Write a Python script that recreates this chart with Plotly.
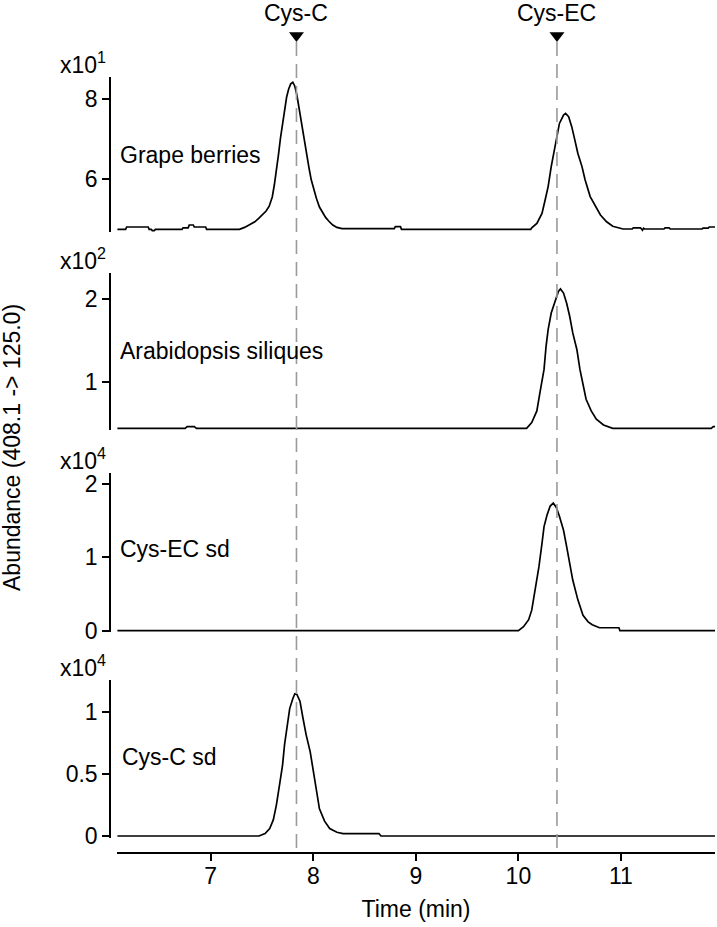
import plotly.graph_objects as go

FONT = "Liberation Sans, Arial, Helvetica, sans-serif"

# ---------------- data (abundance in units of the panel multiplier) ----------------
# Grape berries  (x10^1)
grape_time = [6.09, 6.17, 6.18, 6.39, 6.40, 6.42, 6.43, 6.45, 6.46, 6.72, 6.73, 6.78,
              6.79, 6.83, 6.84, 6.95, 6.96,
              7.28, 7.33, 7.38, 7.43, 7.47, 7.51, 7.54, 7.57, 7.60, 7.62, 7.64, 7.66,
              7.68, 7.70, 7.72, 7.74, 7.76, 7.78, 7.80, 7.82, 7.84, 7.86, 7.88, 7.90,
              7.92, 7.94, 7.96, 7.98, 8.00, 8.03, 8.06, 8.09, 8.12, 8.15, 8.19, 8.23,
              8.28, 8.79, 8.80, 8.85, 8.86, 10.12,
              10.13, 10.18, 10.23, 10.26, 10.29, 10.32, 10.35, 10.37, 10.40, 10.44,
              10.46, 10.49, 10.52, 10.55, 10.58, 10.62, 10.65, 10.70, 10.75, 10.80,
              10.86, 10.92, 11.02, 11.11, 11.12, 11.19, 11.20, 11.21, 11.22, 11.23,
              11.42, 11.43, 11.47, 11.48, 11.79, 11.80, 11.85, 11.86, 11.92]
grape_abund = [4.74, 4.74, 4.80, 4.80, 4.74, 4.74, 4.71, 4.71, 4.74, 4.74, 4.78, 4.78,
               4.85, 4.85, 4.80, 4.80, 4.74,
               4.74, 4.79, 4.86, 4.93, 5.02, 5.12, 5.20, 5.32, 5.55, 5.85, 6.18, 6.60,
               7.02, 7.40, 7.78, 8.05, 8.25, 8.38, 8.42, 8.32, 8.10, 7.78, 7.42, 7.15,
               6.85, 6.55, 6.25, 5.98, 5.78, 5.52, 5.30, 5.15, 5.04, 4.95, 4.85, 4.79,
               4.76, 4.76, 4.81, 4.81, 4.74, 4.74,
               4.78, 4.89, 5.14, 5.47, 5.81, 6.31, 6.72, 7.06, 7.39, 7.60,
               7.64, 7.56, 7.31, 6.98, 6.64, 6.31, 5.98, 5.56, 5.31, 5.10,
               4.93, 4.82, 4.75, 4.75, 4.78, 4.78, 4.75, 4.72, 4.77, 4.75,
               4.75, 4.78, 4.78, 4.75, 4.75, 4.77, 4.77, 4.80, 4.80]

# Arabidopsis siliques  (x10^2)
arab_time = [6.09, 6.75, 6.77, 6.84, 6.86, 10.08, 10.13, 10.18, 10.21, 10.25, 10.27, 10.29, 10.32,
             10.36, 10.39, 10.41, 10.44, 10.47, 10.50, 10.53, 10.57, 10.60, 10.63,
             10.66, 10.71, 10.76, 10.83, 10.92, 11.88, 11.90, 11.92]
arab_abund = [0.44, 0.44, 0.46, 0.46, 0.44, 0.44, 0.51, 0.65, 0.87, 1.15, 1.43, 1.63, 1.83,
              1.99, 2.09, 2.12, 2.07, 1.95, 1.79, 1.59, 1.39, 1.15, 0.95,
              0.79, 0.65, 0.55, 0.48, 0.44, 0.44, 0.46, 0.46]

# Cys-EC standard  (x10^4)
ecsd_time = [6.09, 10.00, 10.05, 10.10, 10.13, 10.16, 10.20, 10.23, 10.25, 10.28,
             10.31, 10.34, 10.37, 10.40, 10.44, 10.47, 10.50, 10.53, 10.58, 10.63,
             10.68, 10.72, 10.79, 10.98, 10.99, 11.92]
ecsd_abund = [0.0, 0.0, 0.055, 0.15, 0.28, 0.51, 0.87, 1.19, 1.42, 1.58,
              1.70, 1.74, 1.68, 1.56, 1.37, 1.15, 0.92, 0.69, 0.42, 0.21,
              0.12, 0.08, 0.04, 0.04, 0.0, 0.0]

# Cys-C standard  (x10^4)
csd_time = [6.09, 7.47, 7.53, 7.575, 7.61, 7.64, 7.67, 7.70, 7.72, 7.745, 7.77,
            7.80, 7.82, 7.84, 7.87, 7.90, 7.93, 7.97, 8.00, 8.03, 8.06, 8.11,
            8.16, 8.23, 8.29, 8.36, 8.64, 8.66, 11.92]
csd_abund = [0.0, 0.0, 0.02, 0.06, 0.13, 0.25, 0.41, 0.57, 0.74, 0.90, 1.03,
             1.11, 1.15, 1.145, 1.09, 0.95, 0.82, 0.68, 0.52, 0.36, 0.22, 0.12,
             0.06, 0.03, 0.02, 0.02, 0.02, 0.0, 0.0]

panel_names = ["Grape berries", "Arabidopsis siliques", "Cys-EC sd", "Cys-C sd"]
panel_exponents = [1, 2, 4, 4]
panel_yticks = [[6, 8], [1, 2], [0, 1, 2], [0, 0.5, 1]]
panel_label_y = [6.6, 1.37, 1.11, 0.64]
panel_label_x = [6.093, 6.093, 6.093, 6.12]

marker_names = ["Cys-C", "Cys-EC"]
marker_times = [7.836, 10.376]

x_ticks = [7, 8, 9, 10, 11]
x_title = "Time (min)"
y_title = "Abundance (408.1 -&gt; 125.0)"

# ---------------- layout constants ----------------
W, H = 717, 927
ML, MR, MT, MB = 110, 2, 0, 74
PLOT_H = H - MT - MB  # 853
x_range = [6.086, 11.917]
panel_domains = [[0.7280, 0.9097], [0.4959, 0.6800], [0.2591, 0.4451], [0.0176, 0.2028]]
panel_ranges = [[4.675, 8.55], [0.42, 2.312], [-0.018, 2.146], [-0.016, 1.261]]

series = [(grape_time, grape_abund), (arab_time, arab_abund),
          (ecsd_time, ecsd_abund), (csd_time, csd_abund)]

fig = go.Figure()
axis_font = dict(family=FONT, size=23, color="black")

for i, (t, v) in enumerate(series):
    yname = "y" if i == 0 else f"y{i+1}"
    fig.add_trace(go.Scatter(x=t, y=v, mode="lines", xaxis="x", yaxis=yname,
                             line=dict(color="black", width=1.7),
                             showlegend=False, hoverinfo="skip", cliponaxis=False))

# overlay axis measured in pixels from top for reference markers
for name, rt in zip(marker_names, marker_times):
    fig.add_trace(go.Scatter(x=[rt, rt], y=[42, PLOT_H], mode="lines", xaxis="x", yaxis="y5",
                             line=dict(color="#9a9a9a", width=1.6, dash="14px,8px"),
                             showlegend=False, hoverinfo="skip"))
    fig.add_trace(go.Scatter(x=[rt], y=[35.5], mode="markers", xaxis="x", yaxis="y5",
                             marker=dict(symbol="triangle-down", size=13, color="black",
                                         line=dict(width=0)),
                             showlegend=False, hoverinfo="skip", cliponaxis=False))
    fig.add_annotation(x=rt, y=13, xref="x", yref="y5", text=name, showarrow=False,
                       font=axis_font, xanchor="center", yanchor="middle")

layout = dict(
    width=W, height=H,
    margin=dict(l=ML, r=MR, t=MT, b=MB, autoexpand=False),
    paper_bgcolor="white", plot_bgcolor="rgba(0,0,0,0)",
    showlegend=False,
    font=axis_font,
    xaxis=dict(domain=[7 / (W - ML - MR), 1], range=x_range, anchor="free", position=0,
               showline=True, linecolor="black", linewidth=1.5,
               ticks="outside", ticklen=7, tickwidth=1.5, tickcolor="black",
               tickvals=x_ticks, ticktext=[str(v) for v in x_ticks],
               ticklabelstandoff=-4,
               tickfont=axis_font, showgrid=False, zeroline=False,
               title=dict(text=x_title, font=axis_font, standoff=12)),
    yaxis5=dict(domain=[0, 1], range=[PLOT_H, 0], anchor="x", visible=False,
                showgrid=False, zeroline=False),
)
for i in range(4):
    key = "yaxis" if i == 0 else f"yaxis{i+1}"
    layout[key] = dict(domain=panel_domains[i], range=panel_ranges[i],
                       anchor="free", position=0,
                       showline=True, linecolor="black", linewidth=1.5,
                       ticks="outside", ticklen=7, tickwidth=1.5, tickcolor="black",
                       tickvals=panel_yticks[i], ticktext=[f"{v:g}" for v in panel_yticks[i]],
                       tickfont=axis_font, showgrid=False, zeroline=False)
fig.update_layout(**layout)

for i in range(4):
    yname = "y" if i == 0 else f"y{i+1}"
    fig.add_annotation(x=panel_label_x[i], y=panel_label_y[i], xref="x", yref=yname,
                       text=panel_names[i], showarrow=False, font=axis_font,
                       xanchor="left", yanchor="middle")
    fig.add_annotation(x=0, y=1, xref="paper", yref=f"{yname} domain",
                       text=f"x10<sup>{panel_exponents[i]}</sup>", showarrow=False,
                       font=axis_font, xanchor="right", yanchor="bottom", xshift=-2, yshift=-3)

fig.add_annotation(x=(12 - ML) / (W - ML - MR), y=(PLOT_H - 448) / PLOT_H,
                   xref="paper", yref="paper", text=y_title, textangle=-90,
                   showarrow=False, font=axis_font, xanchor="center", yanchor="middle")

fig.write_html("out.html", config={"displayModeBar": False},
               post_script="document.body.style.margin='0';")
